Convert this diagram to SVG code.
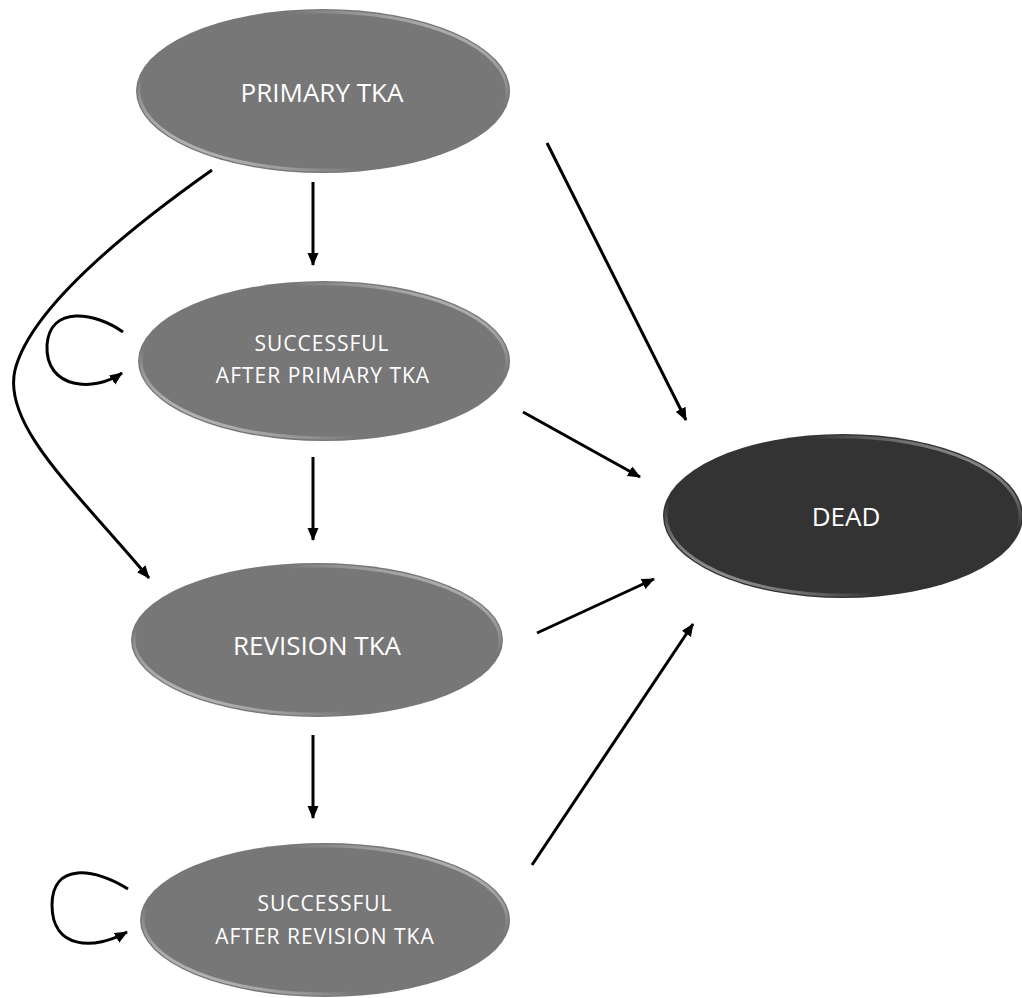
<svg xmlns="http://www.w3.org/2000/svg" width="1022" height="998" viewBox="0 0 1022 998">
<style>
.node{fill:#777777;}
.dead{fill:#333333;}
.rim{fill:none;stroke:url(#rimg);stroke-width:3;}
.lbl{font-family:"Open Sans","Liberation Sans",sans-serif;fill:#ffffff;text-anchor:middle;}
.big{font-size:26px;}
.small{font-size:21px;letter-spacing:1px;}
.edge{fill:none;stroke:#000000;stroke-width:3;marker-end:url(#ah);}
</style>
<defs>
<marker id="ah" markerUnits="userSpaceOnUse" markerWidth="14" markerHeight="12" refX="12" refY="5.5" orient="auto">
<path d="M0,0 L13,5.5 L0,11 z" fill="#000000"/>
</marker>
<linearGradient id="rimg" x1="0" y1="1" x2="1" y2="0">
<stop offset="0" stop-color="#ffffff" stop-opacity="0.05"/>
<stop offset="0.12" stop-color="#ffffff" stop-opacity="0.5"/>
<stop offset="0.3" stop-color="#ffffff" stop-opacity="0"/>
<stop offset="0.7" stop-color="#ffffff" stop-opacity="0"/>
<stop offset="0.88" stop-color="#ffffff" stop-opacity="0.45"/>
<stop offset="1" stop-color="#ffffff" stop-opacity="0.05"/>
</linearGradient>
</defs>
<rect width="1022" height="998" fill="#ffffff"/>
<g id="connectors">
<line class="edge" x1="313" y1="182" x2="313" y2="265"/>
<line class="edge" x1="313" y1="457" x2="313" y2="540"/>
<line class="edge" x1="313" y1="735" x2="313" y2="818"/>
<line class="edge" x1="547" y1="143" x2="686" y2="420"/>
<line class="edge" x1="523" y1="412" x2="640" y2="477"/>
<line class="edge" x1="537" y1="633" x2="654" y2="579"/>
<line class="edge" x1="532" y1="865" x2="693" y2="624"/>
<path class="edge" d="M212,170 C120,235 30,310 15,370 C2,425 75,490 149,578"/>
<path class="edge" d="M123,332 C95,312 50,305 47,345 C45,390 95,392 122,373"/>
<path class="edge" d="M128,889 C95,868 52,862 52,905 C52,950 95,950 127,932"/>
</g>
<g id="node-primary">
<ellipse class="node" cx="323" cy="91" rx="187" ry="82"/>
<ellipse class="rim" cx="323" cy="91" rx="184" ry="79"/>
<text class="lbl big" x="322" y="102">PRIMARY TKA</text>
</g>
<g id="node-success-primary">
<ellipse class="node" cx="324" cy="361" rx="186" ry="80"/>
<ellipse class="rim" cx="324" cy="361" rx="183" ry="77"/>
<text class="lbl small" x="322" y="351">SUCCESSFUL</text>
<text class="lbl small" x="323" y="383">AFTER PRIMARY TKA</text>
</g>
<g id="node-revision">
<ellipse class="node" cx="317" cy="640" rx="186" ry="77"/>
<ellipse class="rim" cx="317" cy="640" rx="183" ry="74"/>
<text class="lbl big" x="317" y="655">REVISION TKA</text>
</g>
<g id="node-success-revision">
<ellipse class="node" cx="325" cy="920" rx="185" ry="77"/>
<ellipse class="rim" cx="325" cy="920" rx="182" ry="74"/>
<text class="lbl small" x="325" y="911">SUCCESSFUL</text>
<text class="lbl small" x="325" y="944">AFTER REVISION TKA</text>
</g>
<g id="node-dead">
<ellipse class="dead" cx="843" cy="516" rx="180" ry="82"/>
<ellipse class="rim" cx="843" cy="516" rx="177" ry="79"/>
<text class="lbl big" x="846" y="526">DEAD</text>
</g>
</svg>
